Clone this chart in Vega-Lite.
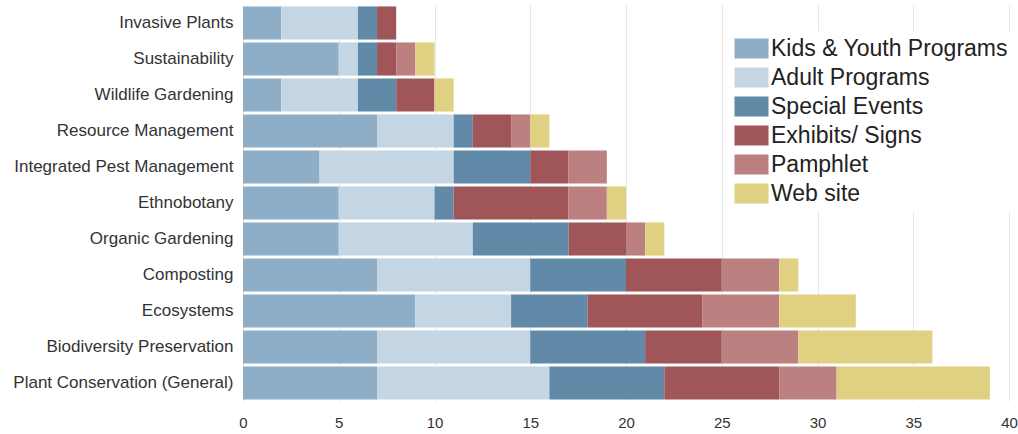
{
  "$schema": "https://vega.github.io/schema/vega-lite/v6.json",
  "autosize": "none",
  "width": 766,
  "height": 396,
  "padding": {"left": 243, "top": 5, "right": 9, "bottom": 33},
  "background": "white",
  "config": {
    "view": {"stroke": null},
    "font": "Liberation Sans"
  },
  "data": {
    "values": [
      {"topic": "Invasive  Plants", "type": "Kids & Youth Programs", "ord": 1, "value": 2},
      {"topic": "Invasive  Plants", "type": "Adult Programs", "ord": 2, "value": 4},
      {"topic": "Invasive  Plants", "type": "Special Events", "ord": 3, "value": 1},
      {"topic": "Invasive  Plants", "type": "Exhibits/ Signs", "ord": 4, "value": 1},
      {"topic": "Sustainability", "type": "Kids & Youth Programs", "ord": 1, "value": 5},
      {"topic": "Sustainability", "type": "Adult Programs", "ord": 2, "value": 1},
      {"topic": "Sustainability", "type": "Special Events", "ord": 3, "value": 1},
      {"topic": "Sustainability", "type": "Exhibits/ Signs", "ord": 4, "value": 1},
      {"topic": "Sustainability", "type": "Pamphlet", "ord": 5, "value": 1},
      {"topic": "Sustainability", "type": "Web site", "ord": 6, "value": 1},
      {"topic": "Wildlife Gardening", "type": "Kids & Youth Programs", "ord": 1, "value": 2},
      {"topic": "Wildlife Gardening", "type": "Adult Programs", "ord": 2, "value": 4},
      {"topic": "Wildlife Gardening", "type": "Special Events", "ord": 3, "value": 2},
      {"topic": "Wildlife Gardening", "type": "Exhibits/ Signs", "ord": 4, "value": 2},
      {"topic": "Wildlife Gardening", "type": "Web site", "ord": 6, "value": 1},
      {"topic": "Resource Management", "type": "Kids & Youth Programs", "ord": 1, "value": 7},
      {"topic": "Resource Management", "type": "Adult Programs", "ord": 2, "value": 4},
      {"topic": "Resource Management", "type": "Special Events", "ord": 3, "value": 1},
      {"topic": "Resource Management", "type": "Exhibits/ Signs", "ord": 4, "value": 2},
      {"topic": "Resource Management", "type": "Pamphlet", "ord": 5, "value": 1},
      {"topic": "Resource Management", "type": "Web site", "ord": 6, "value": 1},
      {"topic": "Integrated Pest Management", "type": "Kids & Youth Programs", "ord": 1, "value": 4},
      {"topic": "Integrated Pest Management", "type": "Adult Programs", "ord": 2, "value": 7},
      {"topic": "Integrated Pest Management", "type": "Special Events", "ord": 3, "value": 4},
      {"topic": "Integrated Pest Management", "type": "Exhibits/ Signs", "ord": 4, "value": 2},
      {"topic": "Integrated Pest Management", "type": "Pamphlet", "ord": 5, "value": 2},
      {"topic": "Ethnobotany", "type": "Kids & Youth Programs", "ord": 1, "value": 5},
      {"topic": "Ethnobotany", "type": "Adult Programs", "ord": 2, "value": 5},
      {"topic": "Ethnobotany", "type": "Special Events", "ord": 3, "value": 1},
      {"topic": "Ethnobotany", "type": "Exhibits/ Signs", "ord": 4, "value": 6},
      {"topic": "Ethnobotany", "type": "Pamphlet", "ord": 5, "value": 2},
      {"topic": "Ethnobotany", "type": "Web site", "ord": 6, "value": 1},
      {"topic": "Organic Gardening", "type": "Kids & Youth Programs", "ord": 1, "value": 5},
      {"topic": "Organic Gardening", "type": "Adult Programs", "ord": 2, "value": 7},
      {"topic": "Organic Gardening", "type": "Special Events", "ord": 3, "value": 5},
      {"topic": "Organic Gardening", "type": "Exhibits/ Signs", "ord": 4, "value": 3},
      {"topic": "Organic Gardening", "type": "Pamphlet", "ord": 5, "value": 1},
      {"topic": "Organic Gardening", "type": "Web site", "ord": 6, "value": 1},
      {"topic": "Composting", "type": "Kids & Youth Programs", "ord": 1, "value": 7},
      {"topic": "Composting", "type": "Adult Programs", "ord": 2, "value": 8},
      {"topic": "Composting", "type": "Special Events", "ord": 3, "value": 5},
      {"topic": "Composting", "type": "Exhibits/ Signs", "ord": 4, "value": 5},
      {"topic": "Composting", "type": "Pamphlet", "ord": 5, "value": 3},
      {"topic": "Composting", "type": "Web site", "ord": 6, "value": 1},
      {"topic": "Ecosystems", "type": "Kids & Youth Programs", "ord": 1, "value": 9},
      {"topic": "Ecosystems", "type": "Adult Programs", "ord": 2, "value": 5},
      {"topic": "Ecosystems", "type": "Special Events", "ord": 3, "value": 4},
      {"topic": "Ecosystems", "type": "Exhibits/ Signs", "ord": 4, "value": 6},
      {"topic": "Ecosystems", "type": "Pamphlet", "ord": 5, "value": 4},
      {"topic": "Ecosystems", "type": "Web site", "ord": 6, "value": 4},
      {"topic": "Biodiversity Preservation", "type": "Kids & Youth Programs", "ord": 1, "value": 7},
      {"topic": "Biodiversity Preservation", "type": "Adult Programs", "ord": 2, "value": 8},
      {"topic": "Biodiversity Preservation", "type": "Special Events", "ord": 3, "value": 6},
      {"topic": "Biodiversity Preservation", "type": "Exhibits/ Signs", "ord": 4, "value": 4},
      {"topic": "Biodiversity Preservation", "type": "Pamphlet", "ord": 5, "value": 4},
      {"topic": "Biodiversity Preservation", "type": "Web site", "ord": 6, "value": 7},
      {"topic": "Plant Conservation (General)", "type": "Kids & Youth Programs", "ord": 1, "value": 7},
      {"topic": "Plant Conservation (General)", "type": "Adult Programs", "ord": 2, "value": 9},
      {"topic": "Plant Conservation (General)", "type": "Special Events", "ord": 3, "value": 6},
      {"topic": "Plant Conservation (General)", "type": "Exhibits/ Signs", "ord": 4, "value": 6},
      {"topic": "Plant Conservation (General)", "type": "Pamphlet", "ord": 5, "value": 3},
      {"topic": "Plant Conservation (General)", "type": "Web site", "ord": 6, "value": 8}
    ]
  },
  "mark": {"type": "bar"},
  "encoding": {
    "y": {
      "field": "topic",
      "type": "nominal",
      "sort": null,
      "scale": {"paddingInner": 0.08, "paddingOuter": 0.04},
      "axis": {
        "title": null,
        "domain": false,
        "ticks": false,
        "labelPadding": 10,
        "labelFontSize": 17,
        "labelColor": "#333333",
        "labelLimit": 300
      }
    },
    "x": {
      "field": "value",
      "type": "quantitative",
      "aggregate": "sum",
      "stack": "zero",
      "scale": {"domain": [0, 40], "nice": false},
      "axis": {
        "title": null,
        "values": [0, 5, 10, 15, 20, 25, 30, 35, 40],
        "domain": false,
        "ticks": false,
        "grid": true,
        "gridColor": "#e6e6e6",
        "labelPadding": 14,
        "labelFontSize": 15,
        "labelColor": "#333333",
        "labelFlush": false
      }
    },
    "color": {
      "field": "type",
      "type": "nominal",
      "scale": {
        "domain": ["Kids & Youth Programs", "Adult Programs", "Special Events", "Exhibits/ Signs", "Pamphlet", "Web site"],
        "range": ["#8eadc6", "#c4d6e3", "#6189a8", "#a05658", "#bd8080", "#e0d182"]
      },
      "legend": {
        "title": null,
        "orient": "none",
        "legendX": 491,
        "legendY": 26,
        "padding": 6,
        "fillColor": "white",
        "symbolType": "M-1.7,-1H1.7V1H-1.7Z",
        "symbolSize": 400,
        "symbolStrokeWidth": 0,
        "symbolOpacity": 1,
        "labelFontSize": 23,
        "labelColor": "#222222",
        "labelOffset": 8,
        "rowPadding": 5,
        "labelLimit": 400
      }
    },
    "order": {"field": "ord", "type": "quantitative"}
  }
}
